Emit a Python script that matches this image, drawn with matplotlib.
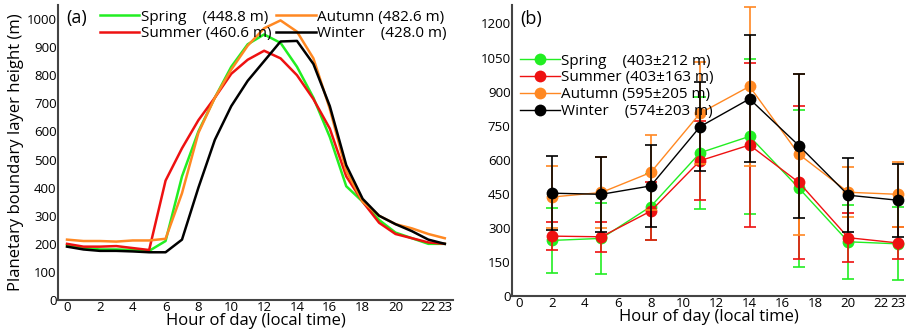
import matplotlib
matplotlib.use("Agg")
import matplotlib.pyplot as plt
from matplotlib.lines import Line2D

plt.rcParams['font.family'] = ['Open Sans', 'DejaVu Sans']

hours = list(range(24))
spring = [195, 185, 180, 180, 178, 175, 210, 440, 600, 720, 830, 910, 945, 915, 830, 720, 580, 405, 350, 285, 240, 220, 200, 200]
summer = [200, 190, 190, 192, 185, 178, 425, 540, 640, 720, 805, 855, 887, 860, 800, 715, 610, 440, 350, 275, 235, 220, 205, 200]
autumn = [215, 210, 210, 208, 212, 212, 218, 380, 595, 720, 820, 905, 967, 995, 955, 860, 680, 460, 350, 300, 270, 255, 235, 220]
winter = [190, 180, 175, 175, 173, 170, 170, 215, 400, 570, 690, 780, 850, 920, 922, 840, 690, 480, 360, 300, 270, 245, 215, 200]

labels_a = ["Spring    (448.8 m)", "Summer (460.6 m)", "Autumn (482.6 m)", "Winter    (428.0 m)"]

hours_b = [2, 5, 8, 11, 14, 17, 20, 23]
spring_b = [245, 254, 394, 631, 703, 475, 239, 230]
spring_err = [142, 157, 145, 246, 341, 345, 163, 160]
summer_b = [264, 261, 374, 596, 665, 500, 257, 234]
summer_err = [61, 65, 129, 173, 362, 337, 108, 69]
autumn_b = [436, 456, 544, 805, 923, 624, 457, 448]
autumn_err = [135, 155, 167, 225, 351, 353, 110, 143]
winter_b = [453, 448, 485, 746, 868, 662, 444, 422]
winter_err = [163, 165, 181, 196, 280, 317, 163, 160]

labels_b = ["Spring    (403\u00b1212 m)", "Summer (403\u00b1163 m)", "Autumn (595\u00b1205 m)", "Winter    (574\u00b1203 m)"]

xticks = [0, 2, 4, 6, 8, 10, 12, 14, 16, 18, 20, 22, 23]
yticks_a = [0, 100, 200, 300, 400, 500, 600, 700, 800, 900, 1000]
yticks_b = [0, 150, 300, 450, 600, 750, 900, 1050, 1200]

colors = ['#22ee22', '#ee1111', '#ff8822', '#000000']

fig = plt.figure(figsize=(9.06, 3.29), dpi=100)
ax1 = fig.add_axes([0.064, 0.088, 0.436, 0.897])
ax2 = fig.add_axes([0.565, 0.100, 0.435, 0.884])

for ax in (ax1, ax2):
    for s in ('top', 'right'):
        ax.spines[s].set_visible(False)
    for s in ('left', 'bottom'):
        ax.spines[s].set_color('#444444')
        ax.spines[s].set_linewidth(1.5)
    ax.tick_params(length=0, labelsize=9.5, pad=1)
    ax.set_xticks(xticks)
    ax.set_xticklabels([str(t) for t in xticks])
    ax.set_xlabel("Hour of day (local time)", fontsize=12, labelpad=-1)

# Panel (a)
series_a = [spring, summer, autumn, winter]
handles = []
for data, c, lab in zip(series_a, colors, labels_a):
    h, = ax1.plot(hours, data, color=c, lw=1.8, label=lab)
    handles.append(h)
ax1.set_xlim(-0.55, 23.5)
ax1.set_ylim(0, 1050)
ax1.set_yticks(yticks_a)
ax1.set_ylabel("Planetary boundary layer height (m)", fontsize=12, labelpad=2)
ax1.text(0.02, 0.985, "(a)", transform=ax1.transAxes, fontsize=13, va='top')
leg1 = ax1.legend(handles[:2], labels_a[:2], loc='upper left', bbox_to_anchor=(0.09, 1.005),
                  frameon=False, fontsize=11, handlelength=2.6, handletextpad=0.1,
                  labelspacing=0.1, borderaxespad=0)
ax1.add_artist(leg1)
ax1.legend(handles[2:], labels_a[2:], loc='upper right', bbox_to_anchor=(1.0, 1.005),
           frameon=False, fontsize=11, handlelength=2.6, handletextpad=0.1,
           labelspacing=0.1, borderaxespad=0)

# Panel (b)
series_b = [(spring_b, spring_err), (summer_b, summer_err), (autumn_b, autumn_err), (winter_b, winter_err)]
hb = []
for (vals, err), c in zip(series_b, colors):
    ax2.errorbar(hours_b, vals, yerr=err, fmt='none', ecolor=c, elinewidth=1.2, capsize=4,
                 capthick=1.2)
    ax2.plot(hours_b, vals, color=c, lw=1.0, marker='o', markersize=8.5, markeredgewidth=0)
    hb.append(Line2D([], [], color=c, lw=1.0, marker='o', markersize=8.5, markeredgewidth=0))
ax2.set_xlim(-0.43, 23.5)
ax2.set_ylim(0, 1280)
ax2.set_yticks(yticks_b)
ax2.text(0.02, 0.985, "(b)", transform=ax2.transAxes, fontsize=13, va='top')
ax2.legend(hb, labels_b, loc='upper left', bbox_to_anchor=(0.005, 0.855), frameon=False,
           fontsize=11, handlelength=2.6, handletextpad=0.1, labelspacing=0.12,
           borderaxespad=0)

fig.savefig("out.png", dpi=100)
